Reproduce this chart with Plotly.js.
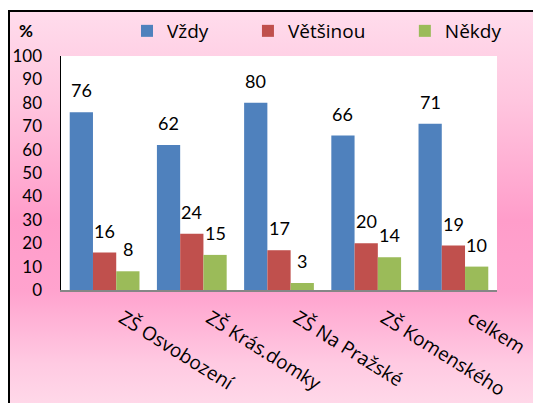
<!DOCTYPE html>
<html>
<head>
<meta charset="utf-8">
<script src="https://cdn.plot.ly/plotly-3.0.1.min.js"></script>
<style>
  html, body { margin: 0; padding: 0; background: #ffffff; width: 533px; height: 403px; overflow: hidden; }
  #frame { position: absolute; left: 8px; top: 10px; width: 540px; height: 400px;
           border-left: 2px solid #000; border-top: 2px solid #000;
           background: linear-gradient(to bottom, #ffdcec 0%, #ffc6df 22%, #ff9dca 52%, #ffa3ce 70%, #ffcae2 88%, #ffdbea 100%); }
  #chart { position: absolute; left: 0; top: 0; width: 533px; height: 403px; }
</style>
</head>
<body>
<div id="frame"></div>
<div id="chart"></div>
<script>
const categories = ["ZŠ Osvobození", "ZŠ Krás.domky", "ZŠ Na Pražské", "ZŠ Komenského", "celkem"];
const seriesNames = ["Vždy", "Většinou", "Někdy"];
const vzdy = [76, 62, 80, 66, 71];
const vetsinou = [16, 24, 17, 20, 19];
const nekdy = [8, 15, 3, 14, 10];
const yTicks = [0, 10, 20, 30, 40, 50, 60, 70, 80, 90, 100];

const colors = ["#4F81BD", "#C0504D", "#9BBB59"];
const allSeries = [vzdy, vetsinou, nekdy];
const FONT = "Lato, 'Open Sans', sans-serif";
const FONT2 = "'Open Sans', Lato, sans-serif";
const legendPad = [7, 7, 0];

const traces = allSeries.map((vals, i) => ({
  type: "bar",
  x: categories,
  y: vals,
  name: seriesNames[i] + "\u00a0".repeat(legendPad[i]),
  marker: { color: colors[i] },
  hoverinfo: "none"
}));

const plotW = 533 - 61 - 36;
const catW = plotW / categories.length;
const barW = catW * 0.8 / 3;
const annotations = [];
allSeries.forEach((vals, i) => {
  vals.forEach((v, j) => {
    annotations.push({
      x: categories[j], y: v, xref: "x", yref: "y",
      text: String(v), showarrow: false,
      xshift: (i - 1) * barW, yshift: 9, yanchor: "bottom",
      font: { family: FONT, size: 18, color: "#000" }
    });
  });
});
annotations.push({
  xref: "paper", yref: "paper", x: -0.08, y: 1.107, xanchor: "center", yanchor: "middle",
  text: "<b>%</b>", showarrow: false, font: { family: FONT, size: 17, color: "#000" }
});

const layout = {
  width: 533, height: 403,
  margin: { l: 61, r: 36, t: 56, b: 113 },
  paper_bgcolor: "rgba(0,0,0,0)",
  plot_bgcolor: "#ffffff",
  barmode: "group",
  bargap: 0.2,
  bargroupgap: 0,
  showlegend: true,
  legend: {
    orientation: "h", xref: "container", yref: "container",
    x: 0.2383, y: 1 - 31 / 403, xanchor: "left", yanchor: "middle",
    font: { family: FONT2, size: 19, color: "#000" },
    bgcolor: "rgba(0,0,0,0)", itemclick: false, traceorder: "normal"
  },
  xaxis: {
    type: "category",
    tickangle: 32,
    tickfont: { family: FONT2, size: 19, color: "#000" },
    ticklabelstandoff: 8, ticklabelshift: 18,
    showline: true, linecolor: "#868686", linewidth: 2,
    ticks: "", showgrid: false, zeroline: false, fixedrange: true
  },
  yaxis: {
    range: [0, 100],
    tickvals: yTicks,
    ticktext: yTicks.map(String),
    tickfont: { family: FONT, size: 17, color: "#000" },
    showline: true, linecolor: "#000", linewidth: 1.5,
    ticks: "", ticklabelstandoff: 14,
    showgrid: false, zeroline: false, fixedrange: true
  },
  annotations: annotations
};

Plotly.newPlot("chart", traces, layout, { displayModeBar: false, staticPlot: true });
</script>
</body>
</html>
